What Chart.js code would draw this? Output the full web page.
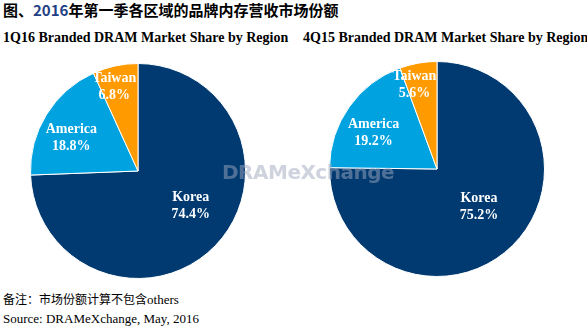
<!DOCTYPE html>
<html>
<head>
<meta charset="utf-8">
<script src="https://cdn.jsdelivr.net/npm/chart.js@4"></script>
<style>
  body { margin: 0; background: #fff; width: 587px; height: 331px; position: relative; overflow: hidden; }
  .txt { position: absolute; white-space: nowrap; color: #000; }
  #title { left: 3px; top: -1px; font: bold 15px "Noto Sans CJK SC", sans-serif; }
  #title span { color: #1f3f86; }
  .sub { top: 30px; font: bold 14px "Liberation Serif", serif; }
  #sub1 { left: 3px; }
  #sub2 { left: 303px; }
  #note { left: 3px; top: 290px; font: 12px "Noto Sans CJK SC", sans-serif; }
  #note b { font: 13px "Liberation Serif", serif; font-weight: normal; }
  #src { left: 3px; top: 311px; font: 13px "Liberation Serif", serif; }
  .box { position: absolute; width: 218px; height: 218px; }
  #box1 { left: 29px; top: 62px; }
  #box2 { left: 328px; top: 60px; }
  #wm { left: 222px; top: 160px; font: bold 20px "DejaVu Sans", sans-serif; color: rgba(160,168,190,0.5); letter-spacing: -0.5px; }
</style>
</head>
<body>
<div id="title" class="txt">图、<span>2016</span>年第一季各区域的品牌内存营收市场份额</div>
<div id="sub1" class="txt sub">1Q16 Branded DRAM Market Share by Region</div>
<div id="sub2" class="txt sub">4Q15 Branded DRAM Market Share by Region</div>
<div class="box" id="box1"><canvas id="pie1"></canvas></div>
<div class="box" id="box2"><canvas id="pie2"></canvas></div>
<div id="wm" class="txt">DRAMeXchange</div>
<div id="note" class="txt">备注：市场份额计算不包含<b>others</b></div>
<div id="src" class="txt">Source: DRAMeXchange, May, 2016</div>
<script>
// Regions, clockwise from 12 o'clock
const regions = ['Korea', 'America', 'Taiwan'];
const share1Q16 = [74.4, 18.8, 6.8];
const share4Q15 = [75.2, 19.2, 5.6];
const colors = ['#003a70', '#00a2e0', '#ff9a00'];

// Draw region name + percentage inside each slice
// (label spots are given as offsets from the pie centre, in radius units)
const sliceLabels = {
    id: 'sliceLabels',
    afterDatasetsDraw(chart, args, opts) {
        const ctx = chart.ctx;
        const meta = chart.getDatasetMeta(0);
        const values = chart.data.datasets[0].data;
        ctx.save();
        ctx.fillStyle = '#fff';
        ctx.textAlign = 'center';
        ctx.textBaseline = 'middle';
        ctx.font = 'bold 14px "Liberation Serif", serif';
        meta.data.forEach((arc, i) => {
            const p = arc.getProps(['x', 'y', 'outerRadius'], true);
            const x = p.x + opts.spots[i][0] * p.outerRadius;
            const y = p.y + opts.spots[i][1] * p.outerRadius;
            ctx.fillText(chart.data.labels[i], x, y - 8);
            ctx.fillText(values[i].toFixed(1) + '%', x, y + 9);
        });
        ctx.restore();
    }
};

function makePie(id, values, spots) {
    new Chart(document.getElementById(id), {
        type: 'pie',
        data: {
            labels: regions,
            datasets: [{
                data: values,
                backgroundColor: colors,
                borderColor: '#fff',
                borderWidth: 1
            }]
        },
        options: {
            responsive: true,
            maintainAspectRatio: false,
            animation: false,
            layout: { padding: 1 },
            plugins: {
                legend: { display: false },
                tooltip: { enabled: false },
                sliceLabels: { spots: spots }
            }
        },
        plugins: [sliceLabels]
    });
}

makePie('pie1', share1Q16, [[0.49, 0.32], [-0.62, -0.31], [-0.22, -0.79]]);
makePie('pie2', share4Q15, [[0.39, 0.35], [-0.59, -0.34], [-0.21, -0.79]]);
</script>
</body>
</html>
